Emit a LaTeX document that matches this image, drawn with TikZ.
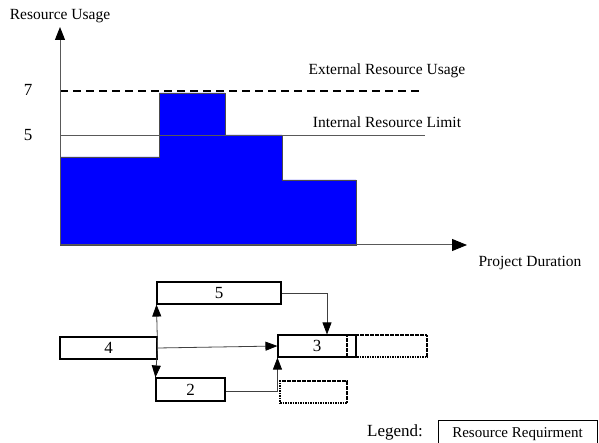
\documentclass[tikz,border=0pt]{standalone}
\usepackage{fontspec}
\setmainfont{Liberation Serif}
\usetikzlibrary{arrows.meta}

\begin{document}
\begin{tikzpicture}[x=1pt, y=-1pt,
    lbl/.style={inner sep=0pt, font=\fontsize{15.5}{18}\selectfont},
    num/.style={inner sep=0pt, font=\fontsize{17}{20}\selectfont},
    task/.style={draw, line width=1.1pt, minimum height=22pt, inner sep=0pt, font=\fontsize{17}{20}\selectfont},
    spare/.style={draw, line width=1.6pt, dash pattern=on 1.6pt off 0.9pt, minimum height=22pt, inner sep=0pt},
    link/.style={draw=black!75, line width=0.8pt, -{Triangle[length=12pt, width=9pt, color=black]}}]

	\useasboundingbox (0,0) rectangle (599,443);

	% resource profile
	\fill[blue, draw=black!70, line width=0.6pt] (60,245) -- (60,157) -- (159,157) -- (159,93) -- (225,93) -- (225,135)
	    -- (282,135) -- (282,180) -- (356,180) -- (356,245) -- cycle;
	\draw[black!65, line width=0.9pt] (60,135) -- (425,135);
	\draw[black, line width=1.8pt, dash pattern=on 8pt off 5pt] (60,91) -- (420,91);

	% axes
	\coordinate (o) at (60,245);
	\coordinate (ytop) at (60,27);
	\coordinate (xend) at (467,245);
	\draw[black!65, line width=1pt, -{Triangle[length=13pt, width=10pt, color=black]}] (o) -- (ytop);
	\draw[black!65, line width=1pt, -{Triangle[length=15pt, width=12pt, color=black]}] (o) -- (xend);

	\node[lbl] (yl) at (60,16) {Resource Usage};
	\node[lbl] (xl) at (530,263) {Project Duration};
	\node[num] (n7) at (28,90) {7};
	\node[num] (n5) at (28,135) {5};
	\node[lbl] (ext) at (387,71) {External Resource Usage};
	\node[lbl] (int) at (387,122) {Internal Resource Limit};

	% network
	\node[task, minimum width=97pt] (t4) at (108.5,348) {4};
	\node[task, minimum width=124pt] (t5) at (219,293) {5};
	\node[task, minimum width=69pt, minimum height=23pt] (t2) at (190.5,389.5) {2};
	\node[task, minimum width=78pt] (t3) at (317,346) {3};
	\node[spare, minimum width=80pt] (r3) at (387,346) {};
	\node[spare, minimum width=67pt] (r2) at (313.5,392) {};

	\draw[link] (t4.east) -- (t3.west);
	\draw[link] (t4.east) -- (t5.south west);
	\draw[link] (t4.east) -- (t2.north west);
	\draw[link] (t5.east) -| ([xshift=10pt]t3.north);
	\draw[link] ([yshift=-2pt]t2.east) -| (t3.south west);

	% legend
	\node[inner sep=0pt, font=\fontsize{17}{20}\selectfont] (leg) at (395,432) {Legend:};
	\node[draw, line width=1pt, minimum width=159pt, minimum height=28pt, inner sep=0pt,
	    font=\fontsize{15}{18}\selectfont] (lbox) at (517.5,434) {Resource Requirment};
\end{tikzpicture}
\end{document}
